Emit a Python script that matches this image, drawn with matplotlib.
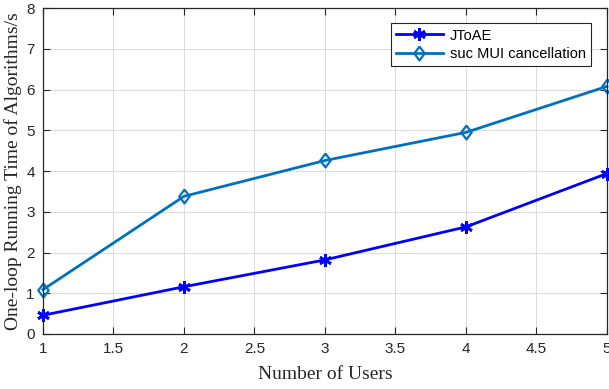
import matplotlib
matplotlib.use('Agg')
import matplotlib.pyplot as plt

users = [1, 2, 3, 4, 5]
jtoae = [0.46, 1.16, 1.82, 2.63, 3.94]
suc_mui = [1.09, 3.38, 4.26, 4.95, 6.08]

plt.rcParams['font.family'] = ['Liberation Sans', 'DejaVu Sans']

# diamond a bit wider than matplotlib's thin 'd'
diamond = [(0, 1), (0.75, 0), (0, -1), (-0.75, 0), (0, 1)]

fig = plt.figure(figsize=(6.09, 3.89), dpi=100)
ax = fig.add_axes([0.0706, 0.1414, 0.926, 0.8376])

ax.plot(users, jtoae, color='#0000ff', lw=2, marker=(6, 2, 0), ms=9, mew=2,
        label='JToAE', clip_on=False, zorder=3)
ax.plot(users, suc_mui, color='#0072bd', lw=2, marker=diamond, ms=10, mew=1.6,
        mfc='none', label='suc MUI cancellation', clip_on=False, zorder=3)

ax.set_xlim(1, 5)
ax.set_ylim(0, 8)
ax.set_xticks([1, 1.5, 2, 2.5, 3, 3.5, 4, 4.5, 5])
ax.set_xticklabels(['1', '1.5', '2', '2.5', '3', '3.5', '4', '4.5', '5'])
ax.set_yticks(range(0, 9))

ax.grid(True, color='#dcdcdc', lw=0.8)
ax.set_axisbelow(True)
ax.tick_params(direction='in', top=True, right=True, length=5, width=0.8,
               labelsize=11, colors='#262626', pad=6)
for s in ax.spines.values():
    s.set_color('#262626')
    s.set_linewidth(0.9)
    s.set_zorder(4)

ax.set_xlabel('Number of Users', family='Liberation Serif', fontsize=14,
              color='#262626', labelpad=7)
ax.set_ylabel('One-loop Running Time of Algorithms/s', family='Liberation Serif',
              fontsize=14, color='#262626', labelpad=3)

leg = ax.legend(loc='upper right', bbox_to_anchor=(0.972, 0.953), fontsize=10.5,
                fancybox=False, edgecolor='#262626', framealpha=1,
                handlelength=3.2, borderpad=0.35, labelspacing=0.3,
                handletextpad=0.5, borderaxespad=0)
leg.get_frame().set_linewidth(0.8)
leg.set_zorder(5)

fig.savefig('out.png', dpi=100)
